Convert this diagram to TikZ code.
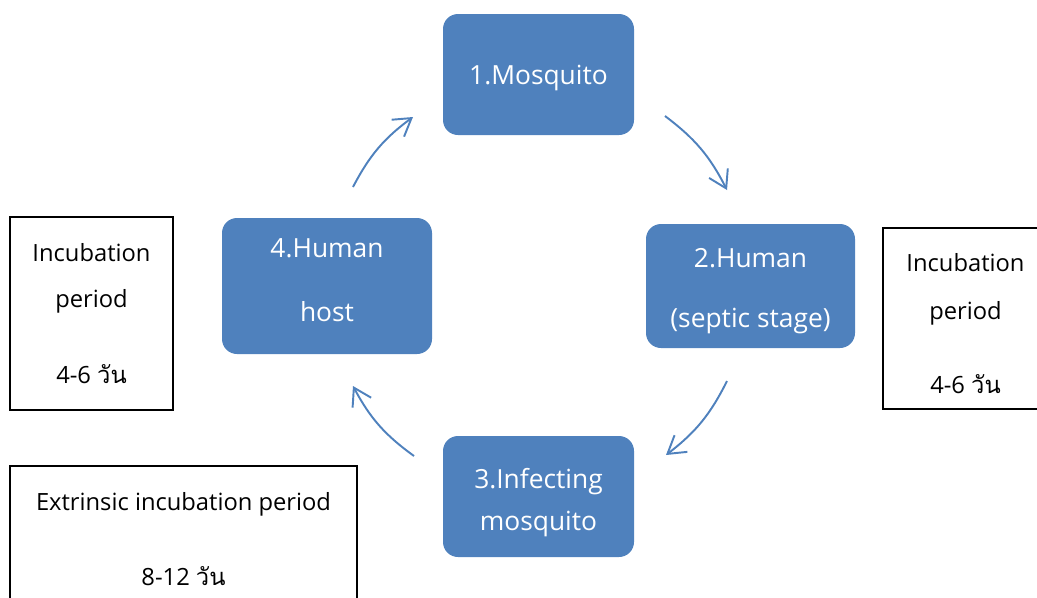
\documentclass[tikz,border=0pt]{standalone}
\usepackage{fontspec}
\setmainfont{Open Sans}
\newfontfamily\thaifont[Script=Thai]{Loma}
\usepackage{xcolor}
\usetikzlibrary{arrows.meta}
\definecolor{stageblue}{HTML}{4F81BD}

\begin{document}
\begin{tikzpicture}[
    stage/.style={draw=none, fill=stageblue, rounded corners=0.3cm, text=white, align=center, font=\fontsize{15}{18}\selectfont},
    note/.style={draw=black, line width=0.9pt, fill=white, align=center, font=\fontsize{13.5}{16}\selectfont},
    flow/.style={draw=stageblue, line width=1.1pt, -{Straight Barb[length=3.4mm, width=4.2mm]}, bend left=13}]
    \useasboundingbox (0,0) rectangle (20.74,-11.94);
    % the four stages of the cycle
    \node[stage, minimum width=3.82cm, minimum height=2.42cm] (mosq) at (10.77,-1.49) {\rule{0pt}{15.5pt}1.Mosquito};
    \node[stage, minimum width=4.18cm, minimum height=2.48cm] (septic) at (15.01,-5.72) {\rule{0pt}{16.4pt}2.Human\\[16pt](septic stage)};
    \node[stage, minimum width=3.82cm, minimum height=2.42cm] (infect) at (10.77,-9.93) {\rule{0pt}{18.2pt}3.Infecting\\[6pt]mosquito};
    \node[stage, minimum width=4.20cm, minimum height=2.72cm] (host) at (6.54,-5.72) {4.Human\\[18pt]host\rule[-6.8pt]{0pt}{6.8pt}};
    % incubation notes
    \node[note, minimum width=3.26cm, minimum height=3.86cm] (incleft) at (1.83,-6.27) {Incubation\\[10pt]period\\[27pt]4-6 {\thaifont วัน}};
    \node[note, minimum width=3.30cm, minimum height=3.62cm] (incright) at (19.31,-6.37) {\rule{0pt}{16pt}Incubation\\[11pt]period\\[26pt]4-6 {\thaifont วัน}};
    \node[note, minimum width=6.94cm, minimum height=2.92cm] (extrinsic) at (3.67,-10.78) {Extrinsic incubation period\\[27pt]8-12 {\thaifont วัน}};
    % arrow ends round the cycle
    \coordinate (a1s) at (7.06,-3.74);
    \coordinate (a1e) at (8.26,-2.34);
    \coordinate (a2s) at (13.30,-2.32);
    \coordinate (a2e) at (14.54,-3.80);
    \coordinate (a3s) at (14.54,-7.62);
    \coordinate (a3e) at (13.32,-9.10);
    \coordinate (a4s) at (8.28,-9.12);
    \coordinate (a4e) at (7.06,-7.72);
    \draw[flow] (a1s) to (a1e);
    \draw[flow] (a2s) to (a2e);
    \draw[flow] (a3s) to (a3e);
    \draw[flow] (a4s) to (a4e);
  \end{tikzpicture}
\end{document}
